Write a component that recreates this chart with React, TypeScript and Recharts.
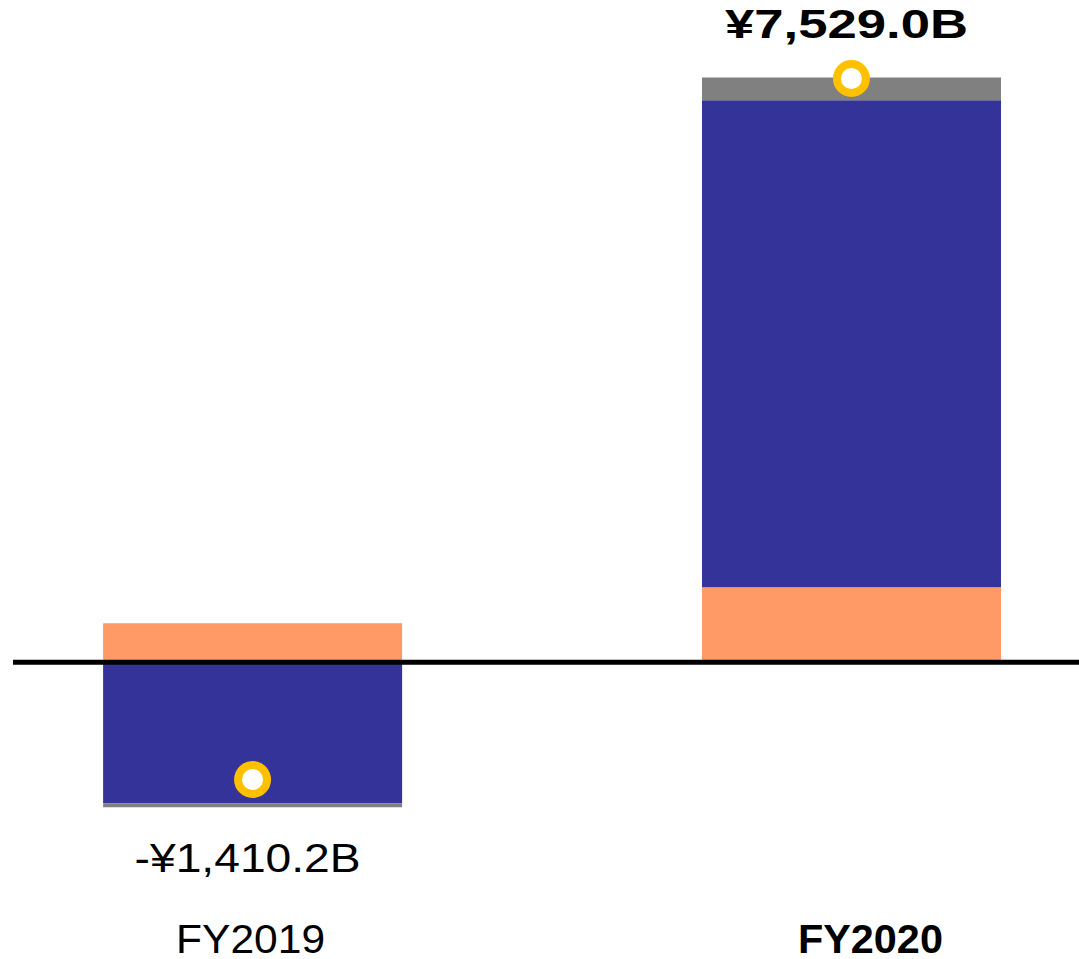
import {
  Bar,
  ComposedChart,
  LabelList,
  Line,
  ReferenceLine,
  XAxis,
  YAxis,
} from "recharts";

// ¥ billions
const categories = ["FY2019", "FY2020"];
const positions = [0, 1];
const orangeValues = [504, 969];
const blueValues = [-1817, 6280];
const greyValues = [-52, 293];
const totalValues = [-1511, 7529];
const totalLabels = ["-¥1,410.2B", "¥7,529.0B"];

const chartData = categories.map((name, i) => ({
  name,
  pos: positions[i],
  orange: orangeValues[i],
  blue: blueValues[i],
  grey: greyValues[i],
  total: totalValues[i],
}));

const font = '"Liberation Sans", Arial, sans-serif';
const tickShift = [-2, 19];
const tickWidths = [149, 145];
const labelWidths = [226, 243];

const CategoryTick = (props: any) => {
  const { x, y, payload } = props;
  const i = payload.value as number;
  const bold = i === 1;
  return (
    <text
      x={x + tickShift[i]}
      y={y}
      dy={58}
      textAnchor="middle"
      fontFamily={font}
      fontSize={41}
      fontWeight={bold ? 700 : 400}
      fill="#000"
      textLength={tickWidths[i]}
      lengthAdjust="spacingAndGlyphs"
    >
      {categories[i]}
    </text>
  );
};

const TotalLabel = (props: any) => {
  const { x, y, width, height, index } = props;
  const top = Math.min(y, y + height);
  const bottom = Math.max(y, y + height);
  const positive = totalValues[index] >= 0;
  return (
    <text
      x={x + width / 2 - 5}
      y={positive ? top - 40 : bottom + 65}
      textAnchor="middle"
      fontFamily={font}
      fontSize={40}
      fontWeight={positive ? 700 : 400}
      fill="#000"
      textLength={labelWidths[index]}
      lengthAdjust="spacingAndGlyphs"
    >
      {totalLabels[index]}
    </text>
  );
};

export default function App() {
  return (
    <div style={{ position: "absolute", left: 0, top: 0, width: 1079, height: 959, background: "#fff" }}>
      <ComposedChart
        width={1079}
        height={959}
        data={chartData}
        stackOffset="sign"
        margin={{ top: 42, right: 0, bottom: 0, left: 13 }}
      >
        <XAxis
          type="number"
          dataKey="pos"
          domain={[-0.4, 1.38]}
          ticks={positions}
          axisLine={false}
          tickLine={false}
          tickSize={0}
          tickMargin={0}
          height={64}
          tick={<CategoryTick />}
          interval={0}
        />
        <YAxis hide domain={[-3000, 8000]} allowDataOverflow />
        <Bar dataKey="orange" stackId="a" fill="#FF9966" barSize={299} isAnimationActive={false} />
        <Bar dataKey="blue" stackId="a" fill="#333399" barSize={299} isAnimationActive={false} />
        <Bar dataKey="grey" stackId="a" fill="#808080" barSize={299} isAnimationActive={false}>
          <LabelList dataKey="grey" content={<TotalLabel />} />
        </Bar>
        <ReferenceLine y={0} stroke="#000" strokeWidth={5} />
        <Line
          dataKey="total"
          stroke="none"
          dot={{ r: 14.5, stroke: "#FFC000", strokeWidth: 8, fill: "#fff" }}
          activeDot={false}
          isAnimationActive={false}
        />
      </ComposedChart>
    </div>
  );
}
